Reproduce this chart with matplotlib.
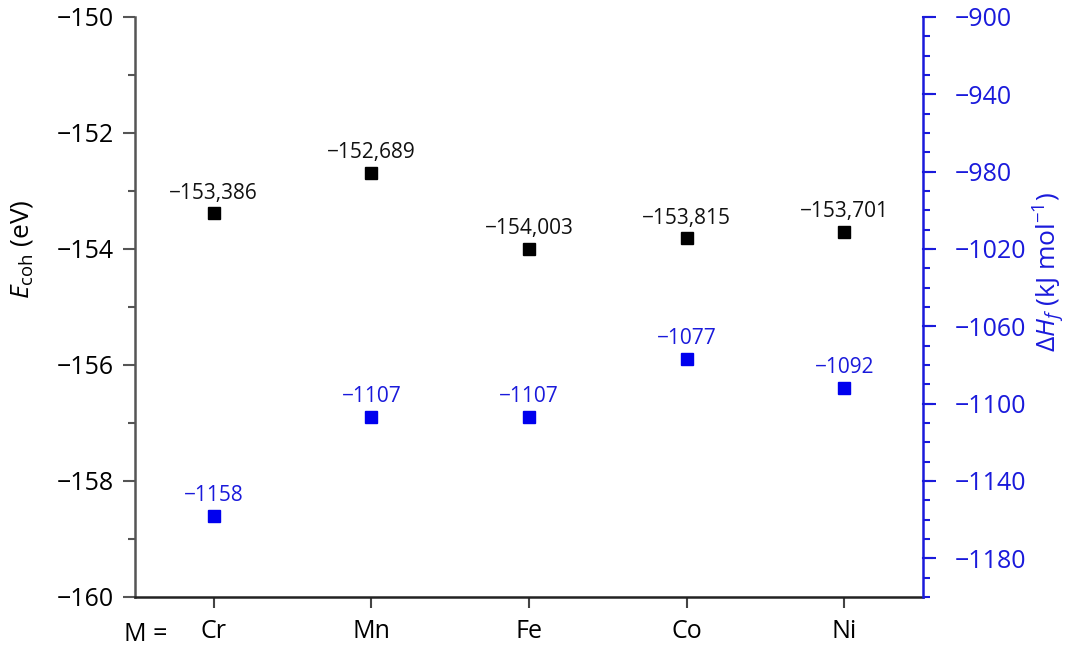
import numpy as np
import matplotlib.pyplot as plt
from matplotlib.ticker import MultipleLocator

plt.rcParams['font.family'] = ['Open Sans', 'DejaVu Sans']
plt.rcParams['axes.unicode_minus'] = True
plt.rcParams['mathtext.fontset'] = 'custom'
plt.rcParams['mathtext.rm'] = 'Open Sans'
plt.rcParams['mathtext.it'] = 'Open Sans:italic'

metals = ['Cr', 'Mn', 'Fe', 'Co', 'Ni']
e_coh = [-153.386, -152.689, -154.003, -153.815, -153.701]
dh_f = [-1158, -1107, -1107, -1077, -1092]

blue = '#1a1adb'

fig = plt.figure(figsize=(10.73, 6.52), dpi=100)
ax = fig.add_axes([135/1073, 55/652, (923-135)/1073, (597-17)/652])
ax2 = ax.twinx()

x = np.arange(len(metals))

ax.plot(x, e_coh, 's', color='black', markersize=8, zorder=3)
for xi, v in zip(x, e_coh):
    txt = '\u2212' + ('%.3f' % abs(v)).replace('.', ',')
    ax.annotate(txt, (xi, v), xytext=(0, 7), textcoords='offset points',
                ha='center', va='bottom', fontsize=15, color='#111111')

ax2.plot(x, dh_f, 's', color='#0000ee', markersize=8, zorder=3)
for xi, v in zip(x, dh_f):
    ax2.annotate('\u2212%d' % abs(v), (xi, v), xytext=(0, 7), textcoords='offset points',
                 ha='center', va='bottom', fontsize=15, color=blue)

ax.set_xlim(-0.5, 4.5)
ax.set_ylim(-160, -150)
ax2.set_ylim(-1200, -900)

ax.set_xticks(x)
ax.set_xticklabels(metals, fontsize=18)
ax.yaxis.set_major_locator(MultipleLocator(2))
ax.yaxis.set_minor_locator(MultipleLocator(1))
ax.tick_params(axis='y', which='major', labelsize=18, length=9, width=1.5, pad=6, color='#555555')
ax.tick_params(axis='y', which='minor', length=5, width=1.5, color='#555555')
ax.tick_params(axis='x', length=8, width=1.5, pad=8, color='#444444')

ax2.yaxis.set_minor_locator(MultipleLocator(10))
ax2.set_yticks(np.arange(-1180, -899, 40))
ax2.tick_params(axis='y', which='major', labelsize=18, length=9, width=1.5, pad=14,
                color=blue, labelcolor=blue)
ax2.tick_params(axis='y', which='minor', length=5, width=1.5, color=blue)
# longer minor ticks at the 20-step positions between labels
for yv in np.arange(-1200, -899, 20):
    if yv % 40 != 0:
        ax2.plot([1.0, 1.0115], [yv, yv], color=blue, lw=1.5,
                 transform=ax2.get_yaxis_transform(), clip_on=False)

for a in (ax, ax2):
    a.spines['top'].set_visible(False)
ax.spines['right'].set_visible(False)
ax2.spines['left'].set_visible(False)
ax2.spines['bottom'].set_visible(False)
ax.spines['left'].set_color('#555555')
ax.spines['left'].set_linewidth(1.8)
ax.spines['bottom'].set_color('#222222')
ax.spines['bottom'].set_linewidth(1.8)
ax2.spines['right'].set_color(blue)
ax2.spines['right'].set_linewidth(1.8)

ax.set_ylabel(r'$E_{\mathrm{coh}}$ (eV)', fontsize=19)
ax.yaxis.set_label_coords(-0.127, 0.60)
ax2.set_ylabel(r'$\Delta H_{f}$ (kJ mol$^{-1}$)', fontsize=19, color=blue)
ax2.yaxis.set_label_coords(1.138, 0.56)
ax.text(0.014, -0.065, 'M =', transform=ax.transAxes, fontsize=18, ha='center', va='center')

fig.savefig('out.png', dpi=100)
